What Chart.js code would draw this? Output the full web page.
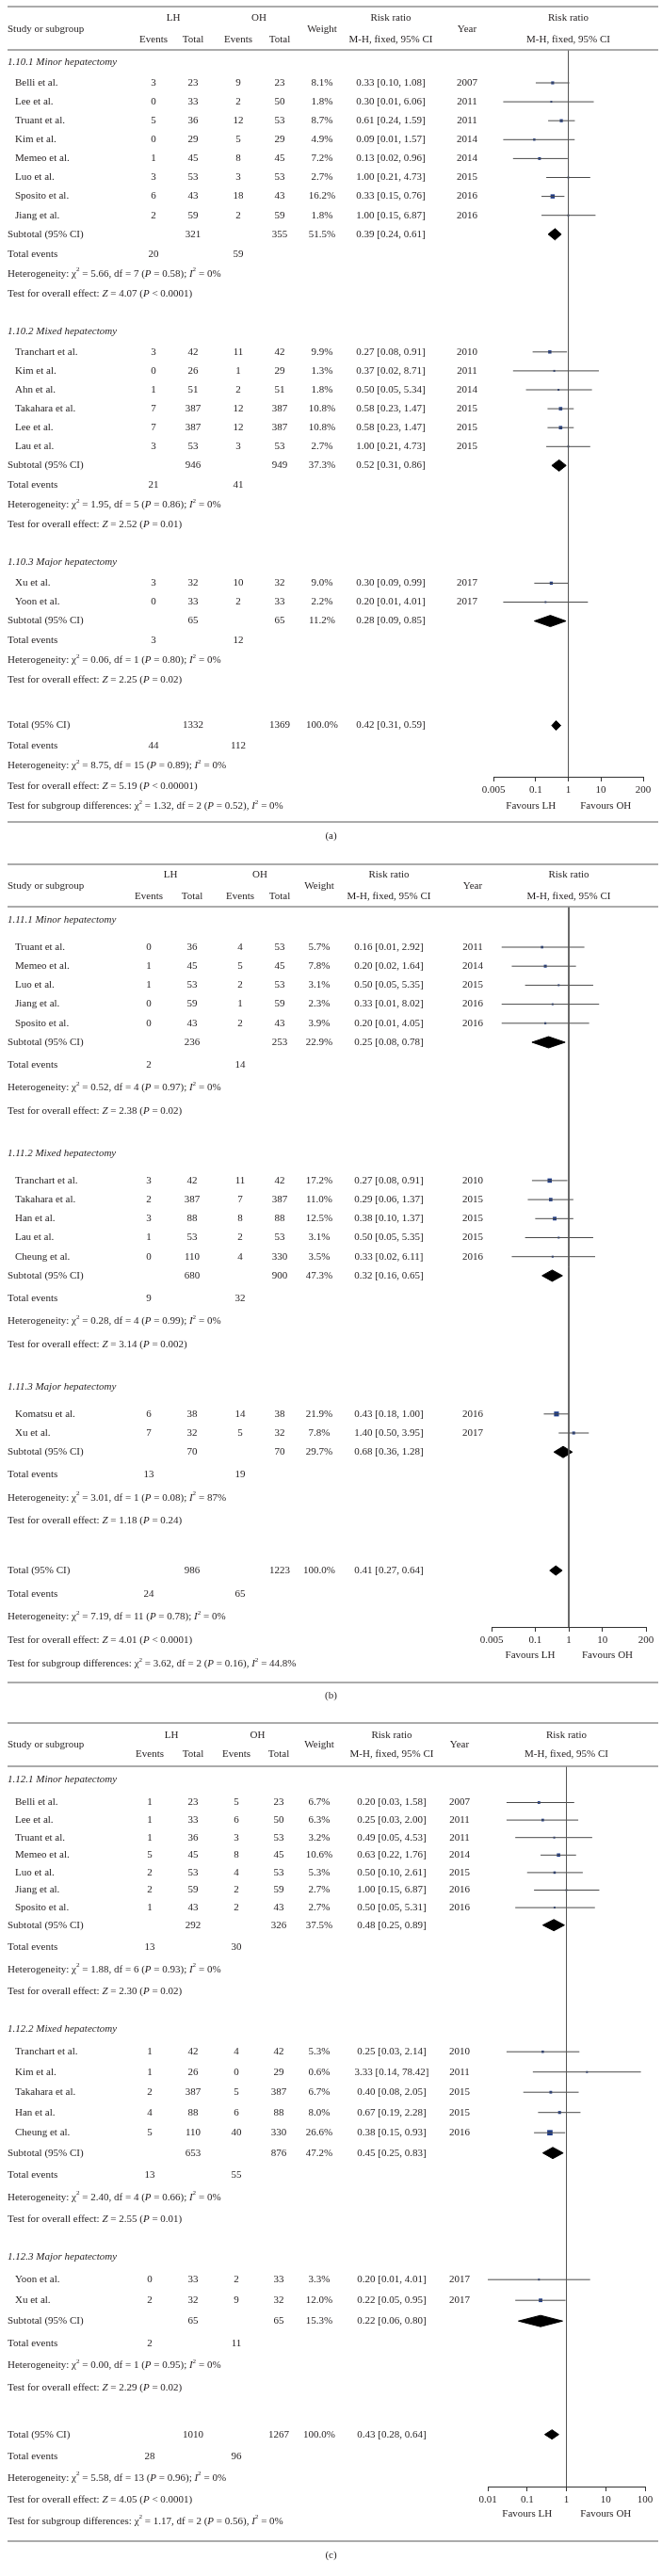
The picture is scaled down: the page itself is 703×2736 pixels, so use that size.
<!DOCTYPE html>
<html>
<head>
<meta charset="utf-8">
<title>Risk ratio forest plots</title>
<script src="https://cdn.jsdelivr.net/npm/chart.js@4.4.1/dist/chart.umd.min.js"></script>
<style>
  body { margin: 0; background: #fff; }
  canvas { display: block; }
</style>
</head>
<body>
<canvas id="panel-a" width="703" height="911"></canvas>
<canvas id="panel-b" width="703" height="911"></canvas>
<canvas id="panel-c" width="703" height="914"></canvas>
<script>
// ---------- (a) ----------
const groupsA = ["1.10.1 Minor hepatectomy", "1.10.2 Mixed hepatectomy", "1.10.3 Major hepatectomy"];
const studyA = ["Belli et al.", "Lee et al.", "Truant et al.", "Kim et al.", "Memeo et al.", "Luo et al.", "Sposito et al.", "Jiang et al.",
  "Tranchart et al.", "Kim et al.", "Ahn et al.", "Takahara et al.", "Lee et al.", "Lau et al.", "Xu et al.", "Yoon et al."];
const groupOfA = [0, 0, 0, 0, 0, 0, 0, 0, 1, 1, 1, 1, 1, 1, 2, 2];
const lhEventsA = [3, 0, 5, 0, 1, 3, 6, 2, 3, 0, 1, 7, 7, 3, 3, 0];
const lhTotalA = [23, 33, 36, 29, 45, 53, 43, 59, 42, 26, 51, 387, 387, 53, 32, 33];
const ohEventsA = [9, 2, 12, 5, 8, 3, 18, 2, 11, 1, 2, 12, 12, 3, 10, 2];
const ohTotalA = [23, 50, 53, 29, 45, 53, 43, 59, 42, 29, 51, 387, 387, 53, 32, 33];
const weightA = [8.1, 1.8, 8.7, 4.9, 7.2, 2.7, 16.2, 1.8, 9.9, 1.3, 1.8, 10.8, 10.8, 2.7, 9.0, 2.2];
const rrA = [0.33, 0.30, 0.61, 0.09, 0.13, 1.00, 0.33, 1.00, 0.27, 0.37, 0.50, 0.58, 0.58, 1.00, 0.30, 0.20];
const lowA = [0.10, 0.01, 0.24, 0.01, 0.02, 0.21, 0.15, 0.15, 0.08, 0.02, 0.05, 0.23, 0.23, 0.21, 0.09, 0.01];
const highA = [1.08, 6.06, 1.59, 1.57, 0.96, 4.73, 0.76, 6.87, 0.91, 8.71, 5.34, 1.47, 1.47, 4.73, 0.99, 4.01];
const yearA = [2007, 2011, 2011, 2014, 2014, 2015, 2016, 2016, 2010, 2011, 2014, 2015, 2015, 2015, 2017, 2017];
// pooled rows: one per subgroup, last one is the overall total
const poolLhTotalA = [321, 946, 65, 1332];
const poolOhTotalA = [355, 949, 65, 1369];
const poolWeightA = [51.5, 37.3, 11.2, 100.0];
const poolRrA = [0.39, 0.52, 0.28, 0.42];
const poolLowA = [0.24, 0.31, 0.09, 0.31];
const poolHighA = [0.61, 0.86, 0.85, 0.59];
const poolLhEventsA = [20, 21, 3, 44];
const poolOhEventsA = [59, 41, 12, 112];
const heteroA = [
  "Heterogeneity: χ^2 = 5.66, df = 7 (*P* = 0.58); *I*^2 = 0%",
  "Heterogeneity: χ^2 = 1.95, df = 5 (*P* = 0.86); *I*^2 = 0%",
  "Heterogeneity: χ^2 = 0.06, df = 1 (*P* = 0.80); *I*^2 = 0%",
  "Heterogeneity: χ^2 = 8.75, df = 15 (*P* = 0.89); *I*^2 = 0%"];
const effectA = [
  "Test for overall effect: *Z* = 4.07 (*P* < 0.0001)",
  "Test for overall effect: *Z* = 2.52 (*P* = 0.01)",
  "Test for overall effect: *Z* = 2.25 (*P* = 0.02)",
  "Test for overall effect: *Z* = 5.19 (*P* < 0.00001)"];
const diffA = "Test for subgroup differences: χ^2 = 1.32, df = 2 (*P* = 0.52), *I*^2 = 0%";
const ticksA = [0.005, 0.1, 1, 10, 200];

// ---------- (b) ----------
const groupsB = ["1.11.1 Minor hepatectomy", "1.11.2 Mixed hepatectomy", "1.11.3 Major hepatectomy"];
const studyB = ["Truant et al.", "Memeo et al.", "Luo et al.", "Jiang et al.", "Sposito et al.",
  "Tranchart et al.", "Takahara et al.", "Han et al.", "Lau et al.", "Cheung et al.", "Komatsu et al.", "Xu et al."];
const groupOfB = [0, 0, 0, 0, 0, 1, 1, 1, 1, 1, 2, 2];
const lhEventsB = [0, 1, 1, 0, 0, 3, 2, 3, 1, 0, 6, 7];
const lhTotalB = [36, 45, 53, 59, 43, 42, 387, 88, 53, 110, 38, 32];
const ohEventsB = [4, 5, 2, 1, 2, 11, 7, 8, 2, 4, 14, 5];
const ohTotalB = [53, 45, 53, 59, 43, 42, 387, 88, 53, 330, 38, 32];
const weightB = [5.7, 7.8, 3.1, 2.3, 3.9, 17.2, 11.0, 12.5, 3.1, 3.5, 21.9, 7.8];
const rrB = [0.16, 0.20, 0.50, 0.33, 0.20, 0.27, 0.29, 0.38, 0.50, 0.33, 0.43, 1.40];
const lowB = [0.01, 0.02, 0.05, 0.01, 0.01, 0.08, 0.06, 0.10, 0.05, 0.02, 0.18, 0.50];
const highB = [2.92, 1.64, 5.35, 8.02, 4.05, 0.91, 1.37, 1.37, 5.35, 6.11, 1.00, 3.95];
const yearB = [2011, 2014, 2015, 2016, 2016, 2010, 2015, 2015, 2015, 2016, 2016, 2017];
const poolLhTotalB = [236, 680, 70, 986];
const poolOhTotalB = [253, 900, 70, 1223];
const poolWeightB = [22.9, 47.3, 29.7, 100.0];
const poolRrB = [0.25, 0.32, 0.68, 0.41];
const poolLowB = [0.08, 0.16, 0.36, 0.27];
const poolHighB = [0.78, 0.65, 1.28, 0.64];
const poolLhEventsB = [2, 9, 13, 24];
const poolOhEventsB = [14, 32, 19, 65];
const heteroB = [
  "Heterogeneity: χ^2 = 0.52, df = 4 (*P* = 0.97); *I*^2 = 0%",
  "Heterogeneity: χ^2 = 0.28, df = 4 (*P* = 0.99); *I*^2 = 0%",
  "Heterogeneity: χ^2 = 3.01, df = 1 (*P* = 0.08); *I*^2 = 87%",
  "Heterogeneity: χ^2 = 7.19, df = 11 (*P* = 0.78); *I*^2 = 0%"];
const effectB = [
  "Test for overall effect: *Z* = 2.38 (*P* = 0.02)",
  "Test for overall effect: *Z* = 3.14 (*P* = 0.002)",
  "Test for overall effect: *Z* = 1.18 (*P* = 0.24)",
  "Test for overall effect: *Z* = 4.01 (*P* < 0.0001)"];
const diffB = "Test for subgroup differences: χ^2 = 3.62, df = 2 (*P* = 0.16), *I*^2 = 44.8%";
const ticksB = [0.005, 0.1, 1, 10, 200];

// ---------- (c) ----------
const groupsC = ["1.12.1 Minor hepatectomy", "1.12.2 Mixed hepatectomy", "1.12.3 Major hepatectomy"];
const studyC = ["Belli et al.", "Lee et al.", "Truant et al.", "Memeo et al.", "Luo et al.", "Jiang et al.", "Sposito et al.",
  "Tranchart et al.", "Kim et al.", "Takahara et al.", "Han et al.", "Cheung et al.", "Yoon et al.", "Xu et al."];
const groupOfC = [0, 0, 0, 0, 0, 0, 0, 1, 1, 1, 1, 1, 2, 2];
const lhEventsC = [1, 1, 1, 5, 2, 2, 1, 1, 1, 2, 4, 5, 0, 2];
const lhTotalC = [23, 33, 36, 45, 53, 59, 43, 42, 26, 387, 88, 110, 33, 32];
const ohEventsC = [5, 6, 3, 8, 4, 2, 2, 4, 0, 5, 6, 40, 2, 9];
const ohTotalC = [23, 50, 53, 45, 53, 59, 43, 42, 29, 387, 88, 330, 33, 32];
const weightC = [6.7, 6.3, 3.2, 10.6, 5.3, 2.7, 2.7, 5.3, 0.6, 6.7, 8.0, 26.6, 3.3, 12.0];
const rrC = [0.20, 0.25, 0.49, 0.63, 0.50, 1.00, 0.50, 0.25, 3.33, 0.40, 0.67, 0.38, 0.20, 0.22];
const lowC = [0.03, 0.03, 0.05, 0.22, 0.10, 0.15, 0.05, 0.03, 0.14, 0.08, 0.19, 0.15, 0.01, 0.05];
const highC = [1.58, 2.00, 4.53, 1.76, 2.61, 6.87, 5.31, 2.14, 78.42, 2.05, 2.28, 0.93, 4.01, 0.95];
const yearC = [2007, 2011, 2011, 2014, 2015, 2016, 2016, 2010, 2011, 2015, 2015, 2016, 2017, 2017];
const poolLhTotalC = [292, 653, 65, 1010];
const poolOhTotalC = [326, 876, 65, 1267];
const poolWeightC = [37.5, 47.2, 15.3, 100.0];
const poolRrC = [0.48, 0.45, 0.22, 0.43];
const poolLowC = [0.25, 0.25, 0.06, 0.28];
const poolHighC = [0.89, 0.83, 0.80, 0.64];
const poolLhEventsC = [13, 13, 2, 28];
const poolOhEventsC = [30, 55, 11, 96];
const heteroC = [
  "Heterogeneity: χ^2 = 1.88, df = 6 (*P* = 0.93); *I*^2 = 0%",
  "Heterogeneity: χ^2 = 2.40, df = 4 (*P* = 0.66); *I*^2 = 0%",
  "Heterogeneity: χ^2 = 0.00, df = 1 (*P* = 0.95); *I*^2 = 0%",
  "Heterogeneity: χ^2 = 5.58, df = 13 (*P* = 0.96); *I*^2 = 0%"];
const effectC = [
  "Test for overall effect: *Z* = 2.30 (*P* = 0.02)",
  "Test for overall effect: *Z* = 2.55 (*P* = 0.01)",
  "Test for overall effect: *Z* = 2.29 (*P* = 0.02)",
  "Test for overall effect: *Z* = 4.05 (*P* < 0.0001)"];
const diffC = "Test for subgroup differences: χ^2 = 1.17, df = 2 (*P* = 0.56), *I*^2 = 0%";
const ticksC = [0.01, 0.1, 1, 10, 100];

const FONT = '"Liberation Serif", "Times New Roman", serif';
const SIZE = 11;
const TEXT = "#231f20";
const RULE = "#8f8f8f";
const SQUARE = "#1f3c88";
const AXIS_H = 30;

const panels = [
  {
    id: "panel-a", caption: "(a)", groups: groupsA, study: studyA, groupOf: groupOfA,
    lhEv: lhEventsA, lhTot: lhTotalA, ohEv: ohEventsA, ohTot: ohTotalA, weight: weightA,
    rr: rrA, low: lowA, high: highA, year: yearA,
    pLhTot: poolLhTotalA, pOhTot: poolOhTotalA, pWeight: poolWeightA, pRr: poolRrA, pLow: poolLowA,
    pHigh: poolHighA, pLhEv: poolLhEventsA, pOhEv: poolOhEventsA, hetero: heteroA, effect: effectA, diff: diffA,
    ticks: ticksA,
    cols: { lhE: 163, lhT: 205, ohE: 253, ohT: 297, wt: 342, rr: 415, yr: 496 },
    axisX: [524, 683],
    layout: { top: 7, hTop: 19, hMid: 31, hBot: 42, rule: 53, headerY: 66, afterHeader: 22,
      studyStep: [20.1, 20.1, 20.1], statStep: 21, sectionGap: 40, totalGap: 48, overallStep: 21.5,
      axis: 825, favours: 856, bottom: 873, caption: 888 }
  },
  {
    id: "panel-b", caption: "(b)", groups: groupsB, study: studyB, groupOf: groupOfB,
    lhEv: lhEventsB, lhTot: lhTotalB, ohEv: ohEventsB, ohTot: ohTotalB, weight: weightB,
    rr: rrB, low: lowB, high: highB, year: yearB,
    pLhTot: poolLhTotalB, pOhTot: poolOhTotalB, pWeight: poolWeightB, pRr: poolRrB, pLow: poolLowB,
    pHigh: poolHighB, pLhEv: poolLhEventsB, pOhEv: poolOhEventsB, hetero: heteroB, effect: effectB, diff: diffB,
    ticks: ticksB,
    cols: { lhE: 158, lhT: 204, ohE: 255, ohT: 297, wt: 339, rr: 413, yr: 502 },
    axisX: [522, 686],
    layout: { top: 7, hTop: 18, hMid: 30, hBot: 41, rule: 52, headerY: 66, afterHeader: 29,
      studyStep: [20.2, 20.2, 20.2], statStep: 24.3, sectionGap: 45, totalGap: 53, overallStep: 24.7,
      axis: 817, favours: 847, bottom: 876, caption: 890 }
  },
  {
    id: "panel-c", caption: "(c)", groups: groupsC, study: studyC, groupOf: groupOfC,
    lhEv: lhEventsC, lhTot: lhTotalC, ohEv: ohEventsC, ohTot: ohTotalC, weight: weightC,
    rr: rrC, low: lowC, high: highC, year: yearC,
    pLhTot: poolLhTotalC, pOhTot: poolOhTotalC, pWeight: poolWeightC, pRr: poolRrC, pLow: poolLowC,
    pHigh: poolHighC, pLhEv: poolLhEventsC, pOhEv: poolOhEventsC, hetero: heteroC, effect: effectC, diff: diffC,
    ticks: ticksC,
    cols: { lhE: 159, lhT: 205, ohE: 251, ohT: 296, wt: 339, rr: 416, yr: 488 },
    axisX: [518, 685],
    layout: { top: 8, hTop: 21, hMid: 31, hBot: 41, rule: 54, headerY: 68, afterHeader: 24.5,
      studyStep: [18.6, 21.5, 22], statStep: 23.5, sectionGap: 39.5, totalGap: 50, overallStep: 23,
      axis: 819, favours: 848, bottom: 877, caption: 892 }
  }
];

// split "*italic*" and "^2" superscript markup into runs
function runs(str) {
  const out = [];
  let italic = false, buf = "";
  const flush = () => { if (buf) out.push({ t: buf, italic, sup: false }); buf = ""; };
  for (let i = 0; i < str.length; i++) {
    const c = str[i];
    if (c === "*") { flush(); italic = !italic; }
    else if (c === "^") { flush(); out.push({ t: str[++i], italic: false, sup: true }); }
    else buf += c;
  }
  flush();
  return out;
}

function drawText(ctx, str, x, y, align, italicAll) {
  const parts = runs(str);
  const fontOf = r => `${r.italic || italicAll ? "italic " : ""}${r.sup ? SIZE * 0.65 : SIZE}px ${FONT}`;
  let w = 0;
  parts.forEach(r => { ctx.font = fontOf(r); r.w = ctx.measureText(r.t).width; w += r.w; });
  let cx = align === "center" ? x - w / 2 : x;
  ctx.textAlign = "left";
  ctx.textBaseline = "middle";
  parts.forEach(r => {
    ctx.font = fontOf(r);
    ctx.fillText(r.t, cx, r.sup ? y - SIZE * 0.38 : y);
    cx += r.w;
  });
}

function placeRows(groupOf, nGroups, L) {
  const r = { group: [], study: [], pool: [], events: [], hetero: [], effect: [] };
  let y = L.headerY;
  for (let g = 0; g < nGroups; g++) {
    if (g > 0) y += L.sectionGap;
    r.group[g] = y;
    y += L.afterHeader;
    let first = true;
    groupOf.forEach((gg, i) => {
      if (gg !== g) return;
      if (!first) y += L.studyStep[g];
      r.study[i] = y;
      first = false;
    });
    y += L.studyStep[g]; r.pool[g] = y;
    y += L.statStep; r.events[g] = y;
    y += L.statStep; r.hetero[g] = y;
    y += L.statStep; r.effect[g] = y;
  }
  y += L.totalGap; r.pool[nGroups] = y;
  y += L.overallStep; r.events[nGroups] = y;
  y += L.overallStep; r.hetero[nGroups] = y;
  y += L.overallStep; r.effect[nGroups] = y;
  y += L.overallStep; r.diff = y;
  return r;
}

const ci = (rr, lo, hi) => `${rr.toFixed(2)} [${lo.toFixed(2)}, ${hi.toFixed(2)}]`;

function tablePlugin(p, rows) {
  return {
    id: "table",
    afterDraw(chart) {
      const ctx = chart.ctx;
      const xs = chart.scales.x, ys = chart.scales.y;
      const L = p.layout, C = p.cols, W = chart.width;
      const py = v => ys.getPixelForValue(v);
      const n = p.groups.length;
      ctx.save();

      ctx.strokeStyle = RULE;
      ctx.lineWidth = 1.5;
      [L.top, L.rule, L.bottom].forEach(ry => {
        ctx.beginPath(); ctx.moveTo(8, ry); ctx.lineTo(W - 4, ry); ctx.stroke();
      });

      ctx.fillStyle = TEXT;
      const mid = xs.getPixelForValue(1);
      drawText(ctx, "Study or subgroup", 8, L.hMid, "left");
      drawText(ctx, "LH", (C.lhE + C.lhT) / 2, L.hTop, "center");
      drawText(ctx, "OH", (C.ohE + C.ohT) / 2, L.hTop, "center");
      drawText(ctx, "Events", C.lhE, L.hBot, "center");
      drawText(ctx, "Total", C.lhT, L.hBot, "center");
      drawText(ctx, "Events", C.ohE, L.hBot, "center");
      drawText(ctx, "Total", C.ohT, L.hBot, "center");
      drawText(ctx, "Weight", C.wt, L.hMid, "center");
      drawText(ctx, "Risk ratio", C.rr, L.hTop, "center");
      drawText(ctx, "M-H, fixed, 95% CI", C.rr, L.hBot, "center");
      drawText(ctx, "Year", C.yr, L.hMid, "center");
      drawText(ctx, "Risk ratio", mid, L.hTop, "center");
      drawText(ctx, "M-H, fixed, 95% CI", mid, L.hBot, "center");

      p.groups.forEach((g, k) => drawText(ctx, g, 8, py(rows.group[k]), "left", true));

      p.study.forEach((name, i) => {
        const y = py(rows.study[i]);
        drawText(ctx, name, 16, y, "left");
        drawText(ctx, String(p.lhEv[i]), C.lhE, y, "center");
        drawText(ctx, String(p.lhTot[i]), C.lhT, y, "center");
        drawText(ctx, String(p.ohEv[i]), C.ohE, y, "center");
        drawText(ctx, String(p.ohTot[i]), C.ohT, y, "center");
        drawText(ctx, p.weight[i].toFixed(1) + "%", C.wt, y, "center");
        drawText(ctx, ci(p.rr[i], p.low[i], p.high[i]), C.rr, y, "center");
        drawText(ctx, String(p.year[i]), C.yr, y, "center");
      });

      for (let k = 0; k <= n; k++) {
        const y = py(rows.pool[k]);
        drawText(ctx, k < n ? "Subtotal (95% CI)" : "Total (95% CI)", 8, y, "left");
        drawText(ctx, String(p.pLhTot[k]), C.lhT, y, "center");
        drawText(ctx, String(p.pOhTot[k]), C.ohT, y, "center");
        drawText(ctx, p.pWeight[k].toFixed(1) + "%", C.wt, y, "center");
        drawText(ctx, ci(p.pRr[k], p.pLow[k], p.pHigh[k]), C.rr, y, "center");
        const ey = py(rows.events[k]);
        drawText(ctx, "Total events", 8, ey, "left");
        drawText(ctx, String(p.pLhEv[k]), C.lhE, ey, "center");
        drawText(ctx, String(p.pOhEv[k]), C.ohE, ey, "center");
        drawText(ctx, p.hetero[k], 8, py(rows.hetero[k]), "left");
        drawText(ctx, p.effect[k], 8, py(rows.effect[k]), "left");
      }
      drawText(ctx, p.diff, 8, py(rows.diff), "left");

      const lo = p.ticks[0], hi = p.ticks[p.ticks.length - 1];
      drawText(ctx, "Favours LH", xs.getPixelForValue(Math.sqrt(lo)), L.favours, "center");
      drawText(ctx, "Favours OH", xs.getPixelForValue(Math.sqrt(hi)), L.favours, "center");
      drawText(ctx, p.caption, W / 2, L.caption, "center");
      ctx.restore();
    }
  };
}

function buildPanel(p) {
  const canvas = document.getElementById(p.id);
  const L = p.layout;
  const rows = placeRows(p.groupOf, p.groups.length, L);
  const datasets = [];

  // line of no effect
  datasets.push({
    type: "line", data: [{ x: 1, y: L.rule }, { x: 1, y: L.axis }],
    borderColor: "#555", borderWidth: 1, pointRadius: 0
  });

  // confidence intervals
  p.study.forEach((s, i) => {
    datasets.push({
      type: "line", data: [{ x: p.low[i], y: rows.study[i] }, { x: p.high[i], y: rows.study[i] }],
      borderColor: "#4a4a4a", borderWidth: 1, pointRadius: 0
    });
  });

  // study estimates, box area follows the weight
  datasets.push({
    type: "scatter",
    data: p.study.map((s, i) => ({ x: p.rr[i], y: rows.study[i], w: p.weight[i] })),
    pointStyle: "rect",
    pointRadius: c => Math.max(2, 1.1 * Math.sqrt(c.raw.w)) / Math.SQRT2,
    backgroundColor: SQUARE, borderWidth: 0
  });

  // pooled diamonds
  p.pRr.forEach((rr, k) => {
    const y = rows.pool[k];
    const h = k < p.groups.length ? 6 : 5;
    datasets.push({
      type: "line",
      data: [{ x: p.pLow[k], y }, { x: rr, y: y - h }, { x: p.pHigh[k], y }, { x: rr, y: y + h }, { x: p.pLow[k], y }],
      fill: "shape", backgroundColor: "#000", borderColor: "#000", borderWidth: 1, pointRadius: 0
    });
  });

  new Chart(canvas, {
    type: "scatter",
    data: { datasets },
    options: {
      responsive: false,
      animation: false,
      events: [],
      layout: {
        padding: {
          top: L.rule,
          left: p.axisX[0],
          right: canvas.width - p.axisX[1],
          bottom: canvas.height - L.axis - AXIS_H
        }
      },
      plugins: { legend: { display: false }, tooltip: { enabled: false } },
      scales: {
        x: {
          type: "logarithmic",
          min: p.ticks[0],
          max: p.ticks[p.ticks.length - 1],
          afterBuildTicks: s => { s.ticks = p.ticks.map(v => ({ value: v })); },
          afterFit: s => { s.height = AXIS_H; s.paddingLeft = 0; s.paddingRight = 0; },
          ticks: {
            callback: v => String(v), autoSkip: false, maxRotation: 0, padding: 3,
            color: TEXT, font: { family: FONT, size: SIZE }
          },
          grid: { drawOnChartArea: false, tickLength: 5, color: "#333" },
          border: { color: "#333", width: 1 }
        },
        y: { type: "linear", reverse: true, min: L.rule, max: L.axis, display: false }
      }
    },
    plugins: [tablePlugin(p, rows)]
  });
}

window.addEventListener("load", () => {
  panels.forEach(buildPanel);
});
</script>
</body>
</html>
